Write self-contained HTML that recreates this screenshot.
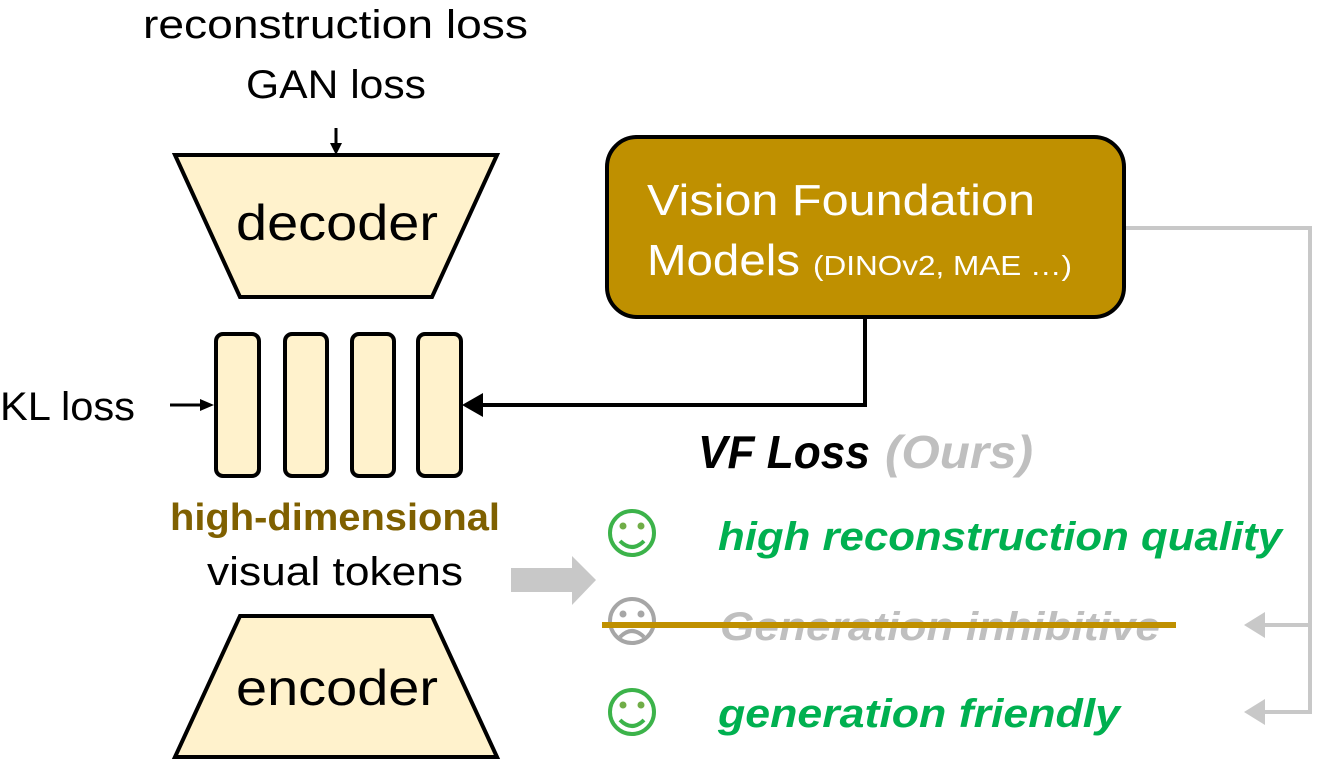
<!DOCTYPE html>
<html><head><meta charset="utf-8"><style>html,body{margin:0;padding:0;background:#fff}svg{display:block}</style></head>
<body>
<svg width="1327" height="763" viewBox="0 0 1327 763" xmlns="http://www.w3.org/2000/svg" font-family="Liberation Sans, sans-serif">
<defs>
<marker id="ab" markerWidth="10" markerHeight="10" refX="9" refY="5" orient="auto" markerUnits="userSpaceOnUse"><path d="M0,0 L10,5 L0,10 z" fill="#000"/></marker>
</defs>
<!-- top labels -->
<text x="143" y="38" font-size="40" textLength="385" lengthAdjust="spacingAndGlyphs">reconstruction loss</text>
<text x="246" y="98" font-size="40" textLength="180" lengthAdjust="spacingAndGlyphs">GAN loss</text>
<line x1="336" y1="128" x2="336" y2="152" stroke="#000" stroke-width="3"/>
<path d="M330,143 L342,143 L336,155 z" fill="#000"/>
<!-- decoder -->
<polygon points="175,155 497,155 432,297 240,297" fill="#FFF2CC" stroke="#000" stroke-width="4" stroke-linejoin="miter"/>
<text x="236" y="240" font-size="50" textLength="202" lengthAdjust="spacingAndGlyphs">decoder</text>
<!-- tokens -->
<g fill="#FFF2CC" stroke="#000" stroke-width="4">
<rect x="216" y="334" width="43" height="142" rx="7"/>
<rect x="285" y="334" width="42" height="142" rx="7"/>
<rect x="352" y="334" width="42" height="142" rx="7"/>
<rect x="418" y="334" width="43" height="142" rx="7"/>
</g>
<text x="0" y="420" font-size="40" textLength="135" lengthAdjust="spacingAndGlyphs">KL loss</text>
<line x1="170" y1="405" x2="204" y2="405" stroke="#000" stroke-width="3"/>
<path d="M200,399 L214,405 L200,411 z" fill="#000"/>
<!-- VFM -->
<rect x="607" y="137" width="517" height="180" rx="30" fill="#BF9000" stroke="#000" stroke-width="4"/>
<text x="647" y="215" font-size="44" fill="#fff" textLength="388" lengthAdjust="spacingAndGlyphs">Vision Foundation</text>
<text x="647" y="275" font-size="44" fill="#fff" textLength="153" lengthAdjust="spacingAndGlyphs">Models</text>
<text x="813" y="275" font-size="28" fill="#fff" textLength="259" lengthAdjust="spacingAndGlyphs">(DINOv2, MAE …)</text>
<polyline points="865,318 865,405 480,405" fill="none" stroke="#000" stroke-width="4"/>
<path d="M483,393 L462,405 L483,417 z" fill="#000"/>
<!-- gray connectors -->
<polyline points="1126,228 1310,228 1310,712 1262,712" fill="none" stroke="#C8C8C8" stroke-width="4"/>
<line x1="1310" y1="625" x2="1262" y2="625" stroke="#C8C8C8" stroke-width="4"/>
<path d="M1265,612 L1244,625 L1265,638 z" fill="#C8C8C8"/>
<path d="M1265,699 L1244,712 L1265,725 z" fill="#C8C8C8"/>
<!-- labels -->
<text x="170" y="530" font-size="38" font-weight="bold" fill="#7F6000" textLength="330" lengthAdjust="spacingAndGlyphs">high-dimensional</text>
<text x="207" y="585" font-size="40" textLength="256" lengthAdjust="spacingAndGlyphs">visual tokens</text>
<path d="M511,568 L572,568 L572,556 L596,580 L572,605 L572,592 L511,592 z" fill="#C8C8C8"/>
<!-- encoder -->
<polygon points="240,616 432,616 497,757 175,757" fill="#FFF2CC" stroke="#000" stroke-width="4"/>
<text x="236" y="705" font-size="50" textLength="202" lengthAdjust="spacingAndGlyphs">encoder</text>
<!-- VF loss -->
<text x="698" y="468" font-size="46" font-weight="bold" font-style="italic" textLength="172" lengthAdjust="spacingAndGlyphs">VF Loss</text>
<text x="885" y="468" font-size="46" font-weight="bold" font-style="italic" fill="#BFBFBF" textLength="148" lengthAdjust="spacingAndGlyphs">(Ours)</text>
<!-- smileys -->
<g fill="none" stroke-width="4">
<circle cx="632" cy="533" r="22" stroke="#3CB34A"/>
<path d="M620,541 Q632,553 644,541" stroke="#3CB34A"/>
<circle cx="632" cy="621" r="22" stroke="#A6A6A6"/>
<path d="M620,637 Q632,625 644,637" stroke="#A6A6A6"/>
<circle cx="632" cy="712" r="22" stroke="#3CB34A"/>
<path d="M620,720 Q632,732 644,720" stroke="#3CB34A"/>
</g>
<g fill="#70AD47"><circle cx="623" cy="526" r="3.5"/><circle cx="641" cy="526" r="3.5"/><circle cx="623" cy="705" r="3.5"/><circle cx="641" cy="705" r="3.5"/></g>
<g fill="#A6A6A6"><circle cx="623" cy="614" r="3.5"/><circle cx="641" cy="614" r="3.5"/></g>
<text x="718" y="550" font-size="40" font-weight="bold" font-style="italic" fill="#00B050" textLength="564" lengthAdjust="spacingAndGlyphs">high reconstruction quality</text>
<text x="720" y="640" font-size="40" font-weight="bold" font-style="italic" fill="#BFBFBF" textLength="440" lengthAdjust="spacingAndGlyphs">Generation inhibitive</text>
<line x1="602" y1="625" x2="1176" y2="625" stroke="#BF9000" stroke-width="6"/>
<text x="718" y="727" font-size="40" font-weight="bold" font-style="italic" fill="#00B050" textLength="402" lengthAdjust="spacingAndGlyphs">generation friendly</text>
</svg>
</body></html>
